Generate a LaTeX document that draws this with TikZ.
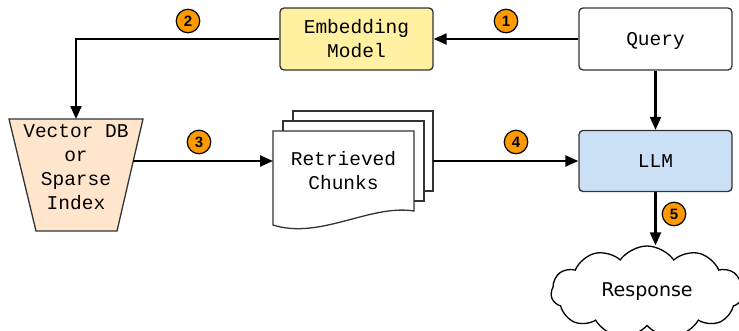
\documentclass[tikz,border=0pt]{standalone}
\usepackage{fontspec}
\setmonofont{Liberation Mono}
\newfontfamily\badgefont{Liberation Sans}
\newfontfamily\respfont{DejaVu Sans}
\usetikzlibrary{arrows.meta,shapes.symbols}
\definecolor{boxline}{HTML}{333333}
\definecolor{embfill}{HTML}{FFF0A2}
\definecolor{llmfill}{HTML}{CCE0F5}
\definecolor{vdbfill}{HTML}{FFE5CC}
\definecolor{badgeorange}{HTML}{FF9900}
\tikzset{
  monotext/.style={font=\ttfamily\fontsize{19.5}{24}\selectfont, align=center, inner sep=0pt},
  box/.style={monotext, draw=boxline, line width=1.3pt, rounded corners=4pt,
    minimum width=153pt, minimum height=62pt},
  oneline/.style={text height=13.5pt, text depth=0pt},
  shapeline/.style={draw=boxline, line width=1.3pt},
  link/.style={line width=2.2pt, -{Triangle[length=13pt,width=11pt]}},
  badge/.style={circle, draw=black, line width=1.2pt, fill=badgeorange,
    minimum size=23.5pt, inner sep=0pt, font=\badgefont\bfseries\fontsize{15}{15}\selectfont}
}
\begin{document}
\begin{tikzpicture}[x=1pt,y=-1pt]
\useasboundingbox (0,0) rectangle (739,330);
\clip (0,0) rectangle (739,330);

% boxes
\node[box, fill=embfill] (embed) at (356.5,39) {Embedding\\Model};
\node[box, fill=white, oneline] (query) at (655.5,39) {Query};
\node[box, fill=llmfill, oneline, minimum height=61pt] (llm) at (655.5,161) {LLM};

% vector DB trapezoid
\path[shapeline, fill=vdbfill] (9,119) -- (143,119) -- (117,231) -- (36,231) -- cycle;
\coordinate (vdbtop) at (76,119);
\coordinate (vdbout) at (133,161);
\node[monotext] (vdb) at (76,167.5) {Vector DB\\or\\Sparse\\Index};

% retrieved chunks (multi-document)
\path[shapeline, fill=white] (293,111) rectangle (433,191);
\path[shapeline, fill=white] (283,121) rectangle (424,201);
\path[shapeline, fill=white] (273,131) -- (414,131) -- (414,211)
  .. controls (370,204) and (320,240) .. (273,225) -- cycle;
\coordinate (chunksin) at (273,161);
\coordinate (chunksout) at (433,161);
\node[monotext] (chunks) at (343.5,171) {Retrieved\\Chunks};

% response cloud
\node[cloud, cloud puffs=11, cloud puff arc=110, aspect=2.1, draw=black, line width=1.3pt,
  fill=white, minimum width=192pt, minimum height=92pt, inner sep=0pt,
  font=\respfont\fontsize{19}{19}\selectfont] (resp) at (647,292) {Response};

% connectors
\draw[link] (query.west) -- (embed.east);
\draw[link] (embed.west) -| (vdbtop);
\draw[link] (vdbout) -- (chunksin);
\draw[link] (chunksout) -- (llm.west);
\draw[link] (query.south) -- (llm.north);
\draw[link] (llm.south) -- (llm.south |- resp.north);

% badges
\node[badge] (b1) at (506,21) {1};
\node[badge] (b2) at (188,21) {2};
\node[badge] (b3) at (199,142) {3};
\node[badge] (b4) at (516,142) {4};
\node[badge] (b5) at (674,214) {5};
\end{tikzpicture}
\end{document}
